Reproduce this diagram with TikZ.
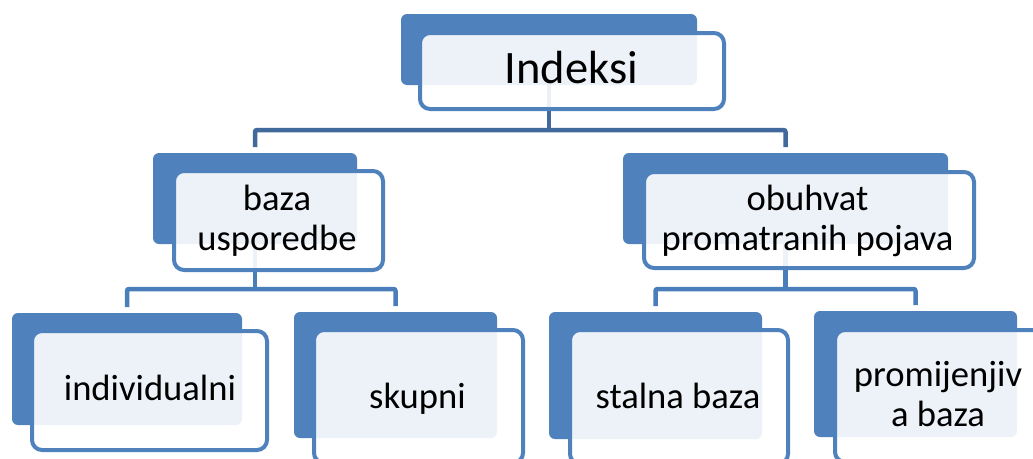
\documentclass[tikz,border=0pt]{standalone}
\usepackage{fontspec}
\setmainfont{Carlito}
\usepackage{tikz}
\usetikzlibrary{backgrounds}
\definecolor{AccentBlue}{HTML}{4F81BD}
\definecolor{LinkDark}{HTML}{41699C}
\definecolor{LinkBlue}{HTML}{4A7EBB}
\tikzstyle{back} = [rectangle, rounded corners=6pt, fill=AccentBlue, inner sep=0, outer sep=0]
\tikzstyle{box} = [rectangle, rounded corners=10pt, draw=AccentBlue, line width=4pt, fill=white,
                   fill opacity=0.9, inner sep=0, outer sep=0]
\tikzstyle{bigtext} = [anchor=base, inner sep=0, font=\fontsize{46.5}{50}\selectfont]
\tikzstyle{smalltext} = [anchor=base, inner sep=0, align=center, font=\fontsize{36.6}{39.8}\selectfont]
\tikzstyle{link} = [line width=4.5pt, draw=LinkBlue, rounded corners=2pt]
\tikzstyle{toplink} = [link, draw=LinkDark]

\begin{document}
\begin{tikzpicture}[x=1pt, y=-1pt]
				\useasboundingbox (0, 0) rectangle (1033, 458);
				\clip (0, 0) rectangle (1033, 458);

				% top
				\node (IndeksiBack) [back, minimum width=296pt, minimum height=71pt] at (549, 49.5) {};
				\node (IndeksiBox) [box, minimum width=304pt, minimum height=76pt] at (572, 71) {};
				\node (IndeksiText) [bigtext] at (571.5, 83.3) {Indeksi};

				% baza usporedbe
				\node (BazaBack) [back, minimum width=204pt, minimum height=91pt] at (255, 198.5) {};
				\node (BazaBox) [box, minimum width=209pt, minimum height=99pt] at (278.5, 220.5) {};
				\node (BazaText) [smalltext] at (277, 250.3) {baza\\usporedbe};

				% obuhvat promatranih pojava
				\node (ObuhvatBack) [back, minimum width=325pt, minimum height=91pt] at (785.5, 198.5) {};
				\node (ObuhvatBox) [box, minimum width=330pt, minimum height=96pt] at (809, 220) {};
				\node (ObuhvatText) [smalltext] at (807.5, 250.3) {obuhvat\\promatranih pojava};

				% individualni
				\node (IndividualniBack) [back, minimum width=230pt, minimum height=112pt] at (127, 369) {};
				\node (IndividualniBox) [box, minimum width=235pt, minimum height=119pt] at (149.5, 390.5) {};
				\node (IndividualniText) [smalltext] at (150, 400) {individualni};

				% skupni
				\node (SkupniBack) [back, minimum width=203pt, minimum height=126pt] at (395.5, 375) {};
				\node (SkupniBox) [box, minimum width=209pt, minimum height=133pt] at (418.5, 396.5) {};
				\node (SkupniText) [smalltext] at (417.5, 408.3) {skupni};

				% stalna baza
				\node (StalnaBack) [back, minimum width=213pt, minimum height=127pt] at (655.5, 375.5) {};
				\node (StalnaBox) [box, minimum width=218pt, minimum height=134pt] at (679, 397) {};
				\node (StalnaText) [smalltext] at (678, 408.3) {stalna baza};

				% promijenjiva baza
				\node (PromjenjivBack) [back, minimum width=203pt, minimum height=126pt] at (915.5, 374) {};
				\node (PromjenjivBox) [box, minimum width=208pt, minimum height=132pt] at (939, 396) {};
				\node (PromjenjivText) [smalltext] at (938, 426.5) {promijenjiv\\a baza};

				% connectors
				\begin{scope}[on background layer]
					\coordinate (TopSplit) at (549, 130);
					\draw [toplink] (IndeksiBack) -- (TopSplit);
					\draw [toplink] ([yshift=6pt]BazaBack.north) |- (TopSplit) -| ([yshift=6pt]ObuhvatBack.north);

					\coordinate (BazaSplit) at (255, 289);
					\draw [link] (BazaBack) -- (BazaSplit);
					\draw [link] ([yshift=6pt]IndividualniBack.north) |- (BazaSplit) -| ([yshift=6pt]SkupniBack.north);

					\coordinate (ObuhvatSplit) at (785.5, 289);
					\draw [link] (ObuhvatBack) -- (ObuhvatSplit);
					\draw [link] ([yshift=6pt]StalnaBack.north) |- (ObuhvatSplit) -| ([yshift=6pt]PromjenjivBack.north);
				\end{scope}
			\end{tikzpicture}
\end{document}
